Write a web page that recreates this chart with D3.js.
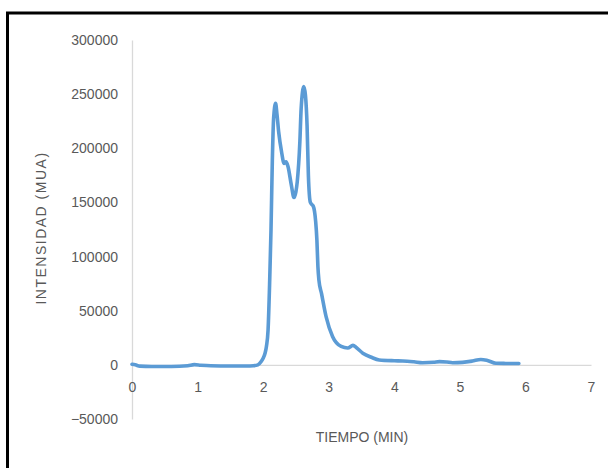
<!DOCTYPE html>
<html>
<head>
<meta charset="utf-8">
<script src="https://cdn.jsdelivr.net/npm/d3@7"></script>
<style>
  html, body { margin: 0; padding: 0; background: #fff; }
  svg { display: block; }
  text { font-family: "Liberation Sans", Arial, sans-serif; fill: #595959; }
</style>
</head>
<body>
<svg id="chart" width="608" height="468"></svg>
<script>
// Chromatogram: retention time (min) vs. intensity (MUA)
const timeMin = [0, 0.05, 0.12, 0.3, 0.6, 0.85, 0.95, 1.05, 1.2, 1.5, 1.75, 1.85, 1.92, 1.97,
  2.0, 2.03, 2.05, 2.075, 2.1, 2.12, 2.14, 2.16, 2.19, 2.21, 2.237, 2.28, 2.32, 2.35, 2.38,
  2.43, 2.47, 2.5, 2.52, 2.56, 2.58, 2.62, 2.645, 2.67, 2.69, 2.72, 2.745, 2.765, 2.8, 2.82, 2.835,
  2.85, 2.89, 2.96, 3.06, 3.19, 3.29, 3.37, 3.42, 3.52, 3.65, 3.77, 4.0, 4.13, 4.3, 4.43, 4.6,
  4.69, 4.8, 4.89, 5.04, 5.19, 5.32, 5.42, 5.55, 5.7, 5.9];
const intensity = [500, 0, -1200, -1500, -1500, -800, 200, -300, -800, -1000, -1000, -800, 0, 3000,
  6200, 11000, 17000, 32000, 78000, 125000, 188000, 228000, 241500, 232000, 215000, 197000, 186000, 187500, 183000,
  166000, 154500, 160000, 169000, 206000, 237000, 257000, 249000, 221000, 175000, 150000, 148000, 146500, 133000, 115000, 91000,
  78500, 66000, 44500, 26000, 17000, 15500, 18000, 16000, 10800, 7000, 4500, 3800, 3600, 2800, 2000, 2400,
  3000, 2600, 2000, 2300, 3500, 5000, 4000, 1500, 1300, 1200];

const xTicks = [0, 1, 2, 3, 4, 5, 6, 7];
const yTicks = [-50000, 0, 50000, 100000, 150000, 200000, 250000, 300000];
const xTitle = "TIEMPO (MIN)";
const yTitle = "INTENSIDAD (MUA)";

const svg = d3.select("#chart");

// outer frame (only top and left edges fall inside the view)
svg.append("rect")
  .attr("x", 7.5).attr("y", 13)
  .attr("width", 700).attr("height", 600)
  .attr("fill", "none").attr("stroke", "#000").attr("stroke-width", 3);

const x = d3.scaleLinear().domain([0, 7]).range([132, 591]);
const y = d3.scaleLinear().domain([-50000, 300000]).range([419, 40]);

// vertical value axis
const yAxis = svg.append("g")
  .attr("transform", `translate(${x(0)},0)`)
  .call(d3.axisLeft(y).tickValues(yTicks).tickSize(0).tickPadding(14).tickFormat(d3.format("d")));
yAxis.select(".domain").attr("stroke", "#d9d9d9").attr("stroke-width", 1.3);
yAxis.selectAll("text").style("font-size", "14px").style("fill", "#595959");

// horizontal axis along zero
const xAxis = svg.append("g")
  .attr("transform", `translate(0,${y(0)})`)
  .call(d3.axisBottom(x).tickValues(xTicks).tickSize(0).tickPadding(17).tickFormat(d3.format("d")));
xAxis.select(".domain").attr("stroke", "#d9d9d9").attr("stroke-width", 1.3);
xAxis.selectAll("text").style("font-size", "14px").style("fill", "#595959");

// axis titles
svg.append("text")
  .attr("x", 362).attr("y", 442)
  .attr("text-anchor", "middle")
  .style("font-size", "14px")
  .text(xTitle);

svg.append("text")
  .attr("transform", "translate(46,228) rotate(-90)")
  .attr("text-anchor", "middle")
  .style("font-size", "14px")
  .style("letter-spacing", "1.5px")
  .text(yTitle);

// signal trace
const points = timeMin.map((t, i) => [t, intensity[i]]);
const line = d3.line()
  .x(d => x(d[0]))
  .y(d => y(d[1]))
  .curve(d3.curveMonotoneX);

svg.append("path")
  .datum(points)
  .attr("d", line)
  .attr("fill", "none")
  .attr("stroke", "#5b9bd5")
  .attr("stroke-width", 3.6)
  .attr("stroke-linejoin", "round")
  .attr("stroke-linecap", "round");
</script>
</body>
</html>
